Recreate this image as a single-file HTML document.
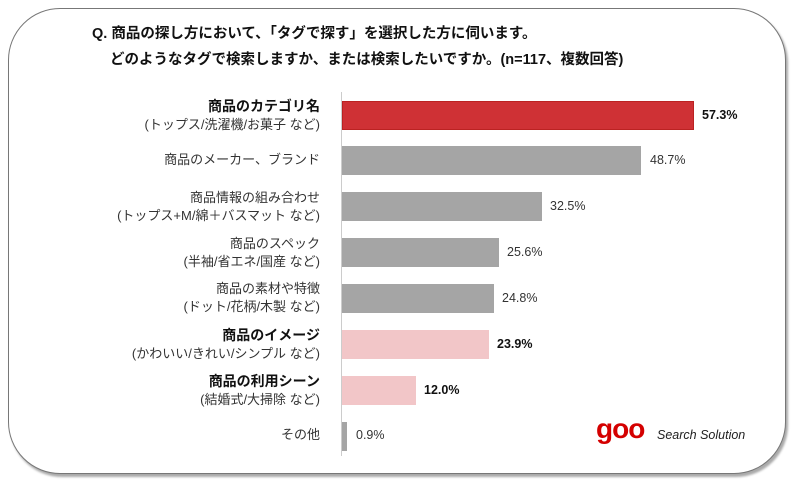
<!DOCTYPE html>
<html><head><meta charset="utf-8"><style>
body{margin:0;width:800px;height:483px;background:#fff;overflow:hidden;font-family:"Liberation Sans","Noto Sans CJK JP",sans-serif;}
.frame{position:absolute;left:8px;top:8px;width:776px;height:464px;border:1.5px solid #777;border-radius:52px;box-shadow:2px 3px 2px #aaa;background:#fff;}
.t{position:absolute;font-size:14.5px;font-weight:bold;color:#111;white-space:nowrap;}
.lab{position:absolute;right:480px;text-align:right;font-size:13px;color:#333;line-height:18px;white-space:nowrap;}
.lab b{font-size:14px;color:#111;}
.bar{position:absolute;left:342px;height:29px;}
.v{position:absolute;font-size:12.5px;color:#333;}
.axis{position:absolute;left:341px;top:92px;width:1px;height:364px;background:#ccc;}
</style></head><body>
<div class="frame"></div>
<div class="t" style="left:92px;top:22px">Q. 商品の探し方において、「タグで探す」を選択した方に伺います。</div>
<div class="t" style="left:110px;top:48px">どのようなタグで検索しますか、または検索したいですか。(n=117、複数回答)</div>
<div class="axis"></div>

<div class="lab" style="top:97px"><b>商品のカテゴリ名</b><br>(トップス/洗濯機/お菓子 など)</div>
<div class="bar" style="top:101px;width:352px;background:#cf3135;border:1px solid #b22;box-sizing:border-box"></div>
<div class="v" style="left:702px;top:108px;font-weight:bold;color:#111">57.3%</div>

<div class="lab" style="top:151px">商品のメーカー、ブランド</div>
<div class="bar" style="top:146px;width:299px;background:#a5a5a5"></div>
<div class="v" style="left:650px;top:153px">48.7%</div>

<div class="lab" style="top:189px">商品情報の組み合わせ<br>(トップス+M/綿＋バスマット など)</div>
<div class="bar" style="top:192px;width:200px;background:#a5a5a5"></div>
<div class="v" style="left:550px;top:199px">32.5%</div>

<div class="lab" style="top:235px">商品のスペック<br>(半袖/省エネ/国産 など)</div>
<div class="bar" style="top:238px;width:157px;background:#a5a5a5"></div>
<div class="v" style="left:507px;top:245px">25.6%</div>

<div class="lab" style="top:280px">商品の素材や特徴<br>(ドット/花柄/木製 など)</div>
<div class="bar" style="top:284px;width:152px;background:#a5a5a5"></div>
<div class="v" style="left:502px;top:291px">24.8%</div>

<div class="lab" style="top:326px"><b>商品のイメージ</b><br>(かわいい/きれい/シンプル など)</div>
<div class="bar" style="top:330px;width:147px;background:#f2c6c8"></div>
<div class="v" style="left:497px;top:337px;font-weight:bold;color:#111">23.9%</div>

<div class="lab" style="top:372px"><b>商品の利用シーン</b><br>(結婚式/大掃除 など)</div>
<div class="bar" style="top:376px;width:74px;background:#f2c6c8"></div>
<div class="v" style="left:424px;top:383px;font-weight:bold;color:#111">12.0%</div>

<div class="lab" style="top:426px">その他</div>
<div class="bar" style="top:422px;width:5px;background:#a5a5a5"></div>
<div class="v" style="left:356px;top:428px">0.9%</div>

<div style="position:absolute;left:596px;top:415px;font-family:'Liberation Sans',sans-serif;font-size:28px;color:#d40000;font-weight:bold;line-height:28px;letter-spacing:-1px">goo</div>
<div style="position:absolute;left:657px;top:428px;font-size:12.5px;font-style:italic;color:#222">Search Solution</div>
</body></html>
